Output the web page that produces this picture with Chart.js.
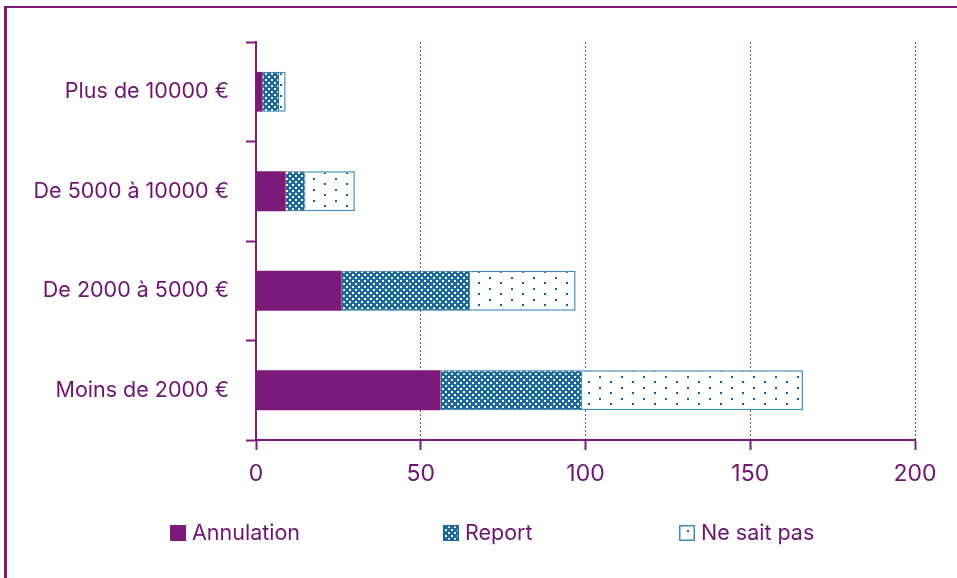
<!DOCTYPE html>
<html lang="fr">
<head>
<meta charset="utf-8">
<script src="https://cdn.jsdelivr.net/npm/chart.js@4/dist/chart.umd.min.js"></script>
<style>
  html, body { margin: 0; padding: 0; background: #fff; }
  #wrap { position: relative; width: 957px; height: 578px; overflow: hidden; }
  #frame { position: absolute; left: 4px; top: 6px; right: -10px; bottom: -10px;
           border-top: 2px solid #7b1a78; border-left: 3px solid #7b1a78; pointer-events: none; }
  canvas { position: absolute; left: 0; top: 0; }
</style>
</head>
<body>
<div id="wrap">
  <canvas id="myChart" width="957" height="578"></canvas>
  <div id="frame"></div>
</div>
<script>
'use strict';

const categories = ['Plus de 10000 €', 'De 5000 à 10000 €', 'De 2000 à 5000 €', 'Moins de 2000 €'];
const annulation = [2, 9, 26, 56];
const report = [5, 6, 39, 43];
const neSaitPas = [2, 15, 32, 67];
const xTicks = [0, 50, 100, 150, 200];

const colors = {
  purple: '#7b1a78',
  text: '#6d1470',
  grid: '#94489a',
  blue: '#1c6a9c',
  blueEdge: '#3f8dbf'
};

// blue tile with small white squares (Report)
function checkerPattern(){
  const c = document.createElement('canvas');
  c.width = 6; c.height = 6;
  const g = c.getContext('2d');
  g.fillStyle = colors.blue;
  g.fillRect(0, 0, 6, 6);
  g.fillStyle = '#fff';
  g.fillRect(1, 1, 2, 2);
  g.fillRect(4, 4, 2, 2);
  return g.createPattern(c, 'repeat');
}

// white tile with staggered blue dots (Ne sait pas)
function dotPattern(){
  const c = document.createElement('canvas');
  c.width = 22; c.height = 11;
  const g = c.getContext('2d');
  g.fillStyle = '#fff';
  g.fillRect(0, 0, 22, 11);
  g.fillStyle = '#145f94';
  g.fillRect(5, 2, 2, 2);
  g.fillRect(16, 7, 2, 2);
  return g.createPattern(c, 'repeat');
}

const fontFamily = 'Inter, Roboto, sans-serif';

// legend spread across the bottom
const bottomLegend = {
  id: 'bottomLegend',
  afterDraw(chart){
    const ctx = chart.ctx;
    const spots = [170, 443, 679];
    ctx.save();
    ctx.font = '21.5px ' + fontFamily;
    ctx.textBaseline = 'middle';
    chart.data.datasets.forEach((ds, i) => {
      const x = spots[i], y = 525;
      ctx.fillStyle = ds.backgroundColor;
      ctx.fillRect(x, y, 16, 16);
      if (ds.borderWidth){
        ctx.strokeStyle = ds.borderColor;
        ctx.lineWidth = 1.5;
        ctx.strokeRect(x + 0.75, y + 0.75, 14.5, 14.5);
      }
      ctx.fillStyle = colors.text;
      ctx.fillText(ds.label, x + 22, y + 9);
    });
    ctx.restore();
  }
};

new Chart(document.getElementById('myChart'), {
  type: 'bar',
  data: {
    labels: categories,
    datasets: [
      { label: 'Annulation', data: annulation, backgroundColor: colors.purple, borderWidth: 0 },
      { label: 'Report', data: report, backgroundColor: checkerPattern(), borderColor: colors.blue, borderWidth: 1 },
      { label: 'Ne sait pas', data: neSaitPas, backgroundColor: dotPattern(), borderColor: colors.blueEdge, borderWidth: 1.5 }
    ]
  },
  options: {
    indexAxis: 'y',
    responsive: false,
    animation: false,
    layout: { padding: { left: 10, right: 42, top: 42, bottom: 78 } },
    datasets: { bar: { barPercentage: 0.4, categoryPercentage: 1 } },
    scales: {
      x: {
        stacked: true,
        min: 0,
        max: 200,
        afterBuildTicks: (s) => { s.ticks = xTicks.map(v => ({ value: v })); },
        afterFit: (s) => { s.height = 60; },
        ticks: { color: colors.text, font: { family: fontFamily, size: 23 }, padding: 10 },
        grid: { color: colors.grid, lineWidth: 1, tickLength: 10, tickColor: colors.purple, tickWidth: 2 },
        border: { color: colors.purple, width: 2, dash: [2, 2] }
      },
      y: {
        stacked: true,
        afterFit: (s) => { s.width = 246; },
        ticks: { color: colors.text, font: { family: fontFamily, size: 21.5 }, padding: 17 },
        grid: { drawOnChartArea: false, tickLength: 10, tickColor: colors.purple, tickWidth: 2 },
        border: { color: colors.purple, width: 2 }
      }
    },
    plugins: {
      legend: { display: false },
      tooltip: { enabled: false }
    }
  },
  plugins: [bottomLegend]
});
</script>
</body>
</html>
